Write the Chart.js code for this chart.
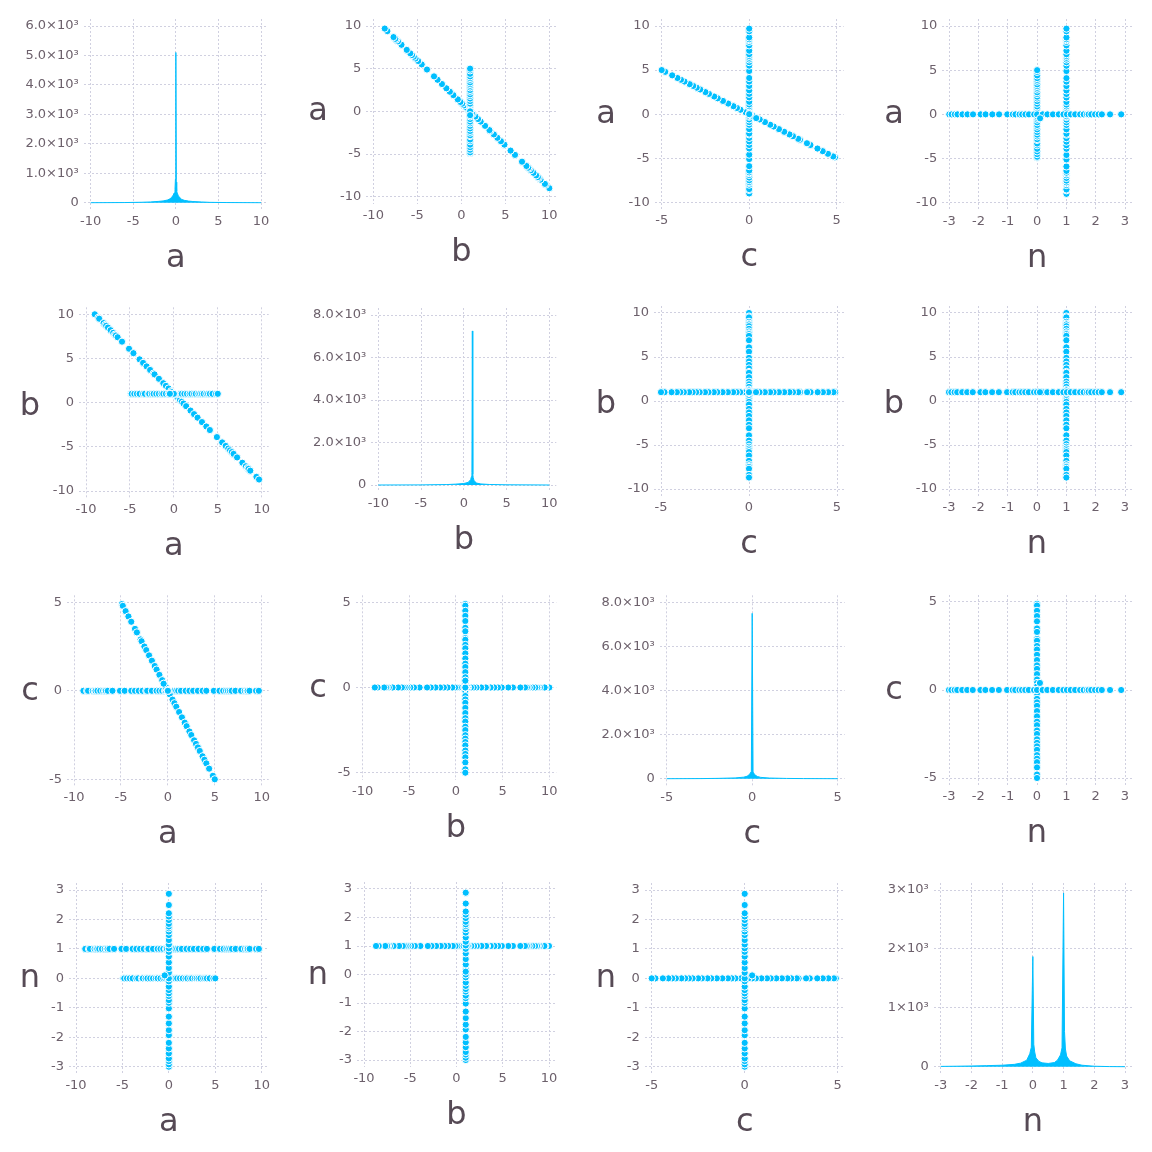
<!DOCTYPE html>
<html>
<head>
<meta charset="utf-8">
<script src="https://cdn.jsdelivr.net/npm/chart.js@4.4.0/dist/chart.umd.min.js"></script>
<style>
  html, body { margin: 0; padding: 0; background: #fff; }
  #grid { position: relative; width: 1152px; height: 1152px; }
  .cell { position: absolute; width: 288px; height: 288px; }
</style>
</head>
<body>
<div id="grid"></div>
<script>
const vars = ['a', 'b', 'c', 'n'];

// samples on the line a + b = 1 (c = 0, n = 1)
const lineOneA = [-9.0, -8.6, -8.5, -8.0, -7.8, -7.7, -7.5, -7.2, -6.9, -6.7, -6.6, -6.4, -5.9, -5.1, -4.6, -3.9, -3.5, -3.1, -2.7, -2.3,
  -2.2, -1.7, -1.2, -0.9, -0.6, -0.3, -0.2, 0.0, 0.2, 0.3, 0.5, 0.7, 0.9, 1.1, 1.4, 1.9, 2.3, 2.7, 3.2, 3.7,
  4.1, 4.9, 5.5, 5.9, 6.2, 6.4, 6.6, 6.8, 7.2, 7.8, 8.2, 8.4, 8.5, 8.7, 9.4, 9.7];
const lineOneB = [10.0, 9.6, 9.5, 9.0, 8.8, 8.7, 8.5, 8.2, 7.9, 7.7, 7.6, 7.4, 6.9, 6.1, 5.6, 4.9, 4.5, 4.1, 3.7, 3.3,
  3.2, 2.7, 2.2, 1.9, 1.6, 1.3, 1.2, 1.0, 0.8, 0.7, 0.5, 0.3, 0.1, -0.1, -0.4, -0.9, -1.3, -1.7, -2.2, -2.7,
  -3.1, -3.9, -4.5, -4.9, -5.2, -5.4, -5.6, -5.8, -6.2, -6.8, -7.2, -7.4, -7.5, -7.7, -8.4, -8.7];
const lineOneC = 0;
const lineOneN = 1;

// samples on the line c = -a (b = 1, n = 0)
const lineTwoA = [-4.9, -4.8, -4.5, -4.2, -3.9, -3.5, -3.3, -2.9, -2.8, -2.5, -2.3, -2.0, -1.7, -1.4, -1.2, -0.9, -0.6, -0.4, -0.2, 0.0,
  0.2, 0.5, 0.7, 0.9, 1.2, 1.5, 1.8, 2.0, 2.3, 2.5, 2.8, 3.0, 3.2, 3.4, 3.7, 3.9, 4.1, 4.4, 4.8, 5.0];
const lineTwoC = [4.9, 4.8, 4.5, 4.2, 3.9, 3.5, 3.3, 2.9, 2.8, 2.5, 2.3, 2.0, 1.7, 1.4, 1.2, 0.9, 0.6, 0.4, 0.2, 0.0,
  -0.2, -0.5, -0.7, -0.9, -1.2, -1.5, -1.8, -2.0, -2.3, -2.5, -2.8, -3.0, -3.2, -3.4, -3.7, -3.9, -4.1, -4.4, -4.8, -5.0];
const lineTwoB = 1;
const lineTwoN = 0;

// samples along n (a = 0, b = 1, c = 0)
const lineThreeN = [-3.0, -2.92, -2.81, -2.72, -2.55, -2.38, -2.19, -1.93, -1.76, -1.53, -1.3, -1.02, -0.83, -0.74, -0.6, -0.51, -0.4, -0.28, -0.1,
  0.0, 0.19, 0.35, 0.54, 0.74, 0.9, 1.02, 1.15, 1.3, 1.47, 1.59, 1.7, 1.76, 1.85, 1.98, 2.1, 2.21, 2.49, 2.87];
const lineThreeA = 0, lineThreeB = 1, lineThreeC = 0;

// one odd sample near the origin
const oddA = -0.45, oddB = 1, oddC = 0.4, oddN = 0.1;

// histograms on the diagonal (bin centre, count)
const histBinsA = [-10, -6, -4, -3, -2, -1.5, -1, -0.7, -0.5, -0.3, -0.2, -0.1, -0.05, 0, 0.05, 0.1, 0.2, 0.3, 0.5, 0.7, 1, 1.5, 2, 3, 4, 6, 10];
const histCountsA = [0, 5, 15, 25, 45, 60, 90, 130, 180, 260, 330, 450, 800, 5100, 700, 380, 300, 230, 160, 110, 80, 55, 40, 25, 12, 5, 0];
const histBinsB = [-10, -5, -2, -1, 0, 0.5, 0.8, 0.9, 0.95, 1.0, 1.05, 1.1, 1.2, 1.5, 2, 3, 5, 10];
const histCountsB = [0, 5, 20, 40, 70, 120, 250, 400, 600, 7250, 500, 350, 200, 90, 50, 25, 8, 0];
const histBinsC = [-5, -3, -2, -1, -0.5, -0.3, -0.15, -0.05, 0, 0.05, 0.15, 0.3, 0.5, 1, 2, 3, 5];
const histCountsC = [0, 5, 15, 35, 70, 110, 200, 330, 7500, 300, 180, 100, 60, 30, 12, 5, 0];
const histBinsN = [-3, -2.5, -2, -1.5, -1, -0.6, -0.4, -0.2, -0.1, -0.05, 0, 0.03, 0.06, 0.1, 0.2, 0.3, 0.5, 0.7, 0.8, 0.9, 0.95, 1.0, 1.03, 1.06, 1.1, 1.2, 1.4, 1.6, 2, 2.5, 3];
const histCountsN = [5, 8, 12, 18, 25, 40, 60, 110, 220, 330, 1870, 380, 250, 150, 90, 65, 55, 70, 110, 200, 320, 2950, 600, 300, 180, 100, 50, 25, 8, 2, 0];

// tick labels
const ticksA = [-10, -5, 0, 5, 10];
const ticksB = [-10, -5, 0, 5, 10];
const ticksC = [-5, 0, 5];
const ticksN = [-3, -2, -1, 0, 1, 2, 3];
const countTicksA = [0, 1000, 2000, 3000, 4000, 5000, 6000];
const countTicksB = [0, 2000, 4000, 6000, 8000];
const countTicksC = [0, 2000, 4000, 6000, 8000];
const countTicksN = [0, 1000, 2000, 3000];

// build the sample columns
const colA = lineOneA.concat(lineTwoA, lineThreeN.map(() => lineThreeA), [oddA]);
const colB = lineOneB.concat(lineTwoA.map(() => lineTwoB), lineThreeN.map(() => lineThreeB), [oddB]);
const colC = lineOneA.map(() => lineOneC).concat(lineTwoC, lineThreeN.map(() => lineThreeC), [oddC]);
const colN = lineOneA.map(() => lineOneN).concat(lineTwoA.map(() => lineTwoN), lineThreeN, [oddN]);

const cols = { a: colA, b: colB, c: colC, n: colN };
const hists = { a: [histBinsA, histCountsA], b: [histBinsB, histCountsB], c: [histBinsC, histCountsC], n: [histBinsN, histCountsN] };
const varTicks = { a: ticksA, b: ticksB, c: ticksC, n: ticksN };
const countTicks = { a: countTicksA, b: countTicksB, c: countTicksC, n: countTicksN };

// pixel position of first/last x tick and top/bottom y tick per panel
const tickPx = [
  [[90.7, 261], [26, 202.7]], [[373.3, 549.3], [26, 196.7]], [[661.7, 836.7], [26, 202.3]], [[949.3, 1125], [26, 202.7]],
  [[86, 261.7], [314.3, 491]], [[378.3, 549.3], [315, 485]], [[661, 837], [313, 489]], [[949, 1125], [313, 489]],
  [[74, 261.7], [602.3, 779.3]], [[362.7, 549.3], [602.3, 772.7]], [[666.7, 837.7], [602.3, 778.7]], [[949, 1125], [602, 778]],
  [[76, 261.7], [890, 1066.7]], [[364, 549], [889, 1060]], [[651.7, 837.7], [890, 1066.7]], [[940.7, 1125], [890, 1066.7]]
];

const CELL = 288;
const PAD = 7;
const BLUE = '#00BFFF';
const TICK_COLOR = '#6c606b';
const TITLE_COLOR = '#564a55';
const FONT = 'DejaVu Sans';

function countLabel(v, name) {
  if (v === 0) return '0';
  if (name === 'n') return (v / 1000) + '×10³';
  return (v / 1000).toFixed(1) + '×10³';
}

const axisTitles = {
  id: 'axisTitles',
  afterDraw(chart, args, opts) {
    const ctx = chart.ctx;
    const area = chart.chartArea;
    ctx.save();
    ctx.font = '32px "' + FONT + '"';
    ctx.fillStyle = TITLE_COLOR;
    ctx.textAlign = 'center';
    ctx.textBaseline = 'alphabetic';
    ctx.fillText(opts.x, (area.left + area.right) / 2, opts.xBaseline);
    if (opts.y) {
      const m = ctx.measureText(opts.y);
      const cy = (area.top + area.bottom) / 2 + (m.actualBoundingBoxAscent - m.actualBoundingBoxDescent) / 2;
      ctx.fillText(opts.y, opts.yCenter, cy);
    }
    ctx.restore();
  }
};

function makePanel(r, c) {
  const grid = document.getElementById('grid');
  const cell = document.createElement('div');
  cell.className = 'cell';
  cell.style.left = (c * CELL) + 'px';
  cell.style.top = (r * CELL) + 'px';
  const canvas = document.createElement('canvas');
  canvas.width = CELL;
  canvas.height = CELL;
  cell.appendChild(canvas);
  grid.appendChild(cell);

  const cellX = c * CELL, cellY = r * CELL;
  const [[x0, x1], [yT, yB]] = tickPx[r * 4 + c];
  const left = x0 - PAD - cellX, right = x1 + PAD - cellX;
  const top = yT - PAD - cellY, bottom = yB + PAD - cellY;

  const xName = vars[c], yName = vars[r];
  const diag = r === c;
  const xt = varTicks[xName];
  const yt = diag ? countTicks[xName] : varTicks[yName];
  const xPer = (x1 - x0) / (xt[xt.length - 1] - xt[0]);
  const yPer = (yB - yT) / (yt[yt.length - 1] - yt[0]);

  let dataset;
  if (diag) {
    const [bins, counts] = hists[xName];
    dataset = {
      type: 'line',
      data: bins.map((x, i) => ({ x: x, y: counts[i] })),
      borderColor: BLUE,
      backgroundColor: BLUE,
      borderWidth: 1,
      pointRadius: 0,
      tension: 0,
      fill: 'origin'
    };
  } else {
    dataset = {
      type: 'scatter',
      data: cols[xName].map((x, i) => ({ x: x, y: cols[yName][i] })),
      backgroundColor: BLUE,
      borderColor: '#ffffff',
      borderWidth: 1,
      pointRadius: 3.6,
      pointHoverRadius: 3.6
    };
  }

  const tickFont = { family: FONT, size: 13 };

  new Chart(canvas.getContext('2d'), {
    type: diag ? 'line' : 'scatter',
    data: { datasets: [dataset] },
    options: {
      responsive: false,
      animation: false,
      devicePixelRatio: 1,
      layout: { padding: { left: 0, top: top, right: CELL - right, bottom: 0 } },
      plugins: {
        legend: { display: false },
        tooltip: { enabled: false },
        axisTitles: { x: xName, y: diag ? '' : yName, xBaseline: yB - cellY + 64, yCenter: 30 }
      },
      scales: {
        x: {
          type: 'linear',
          min: xt[0] - PAD / xPer,
          max: xt[xt.length - 1] + PAD / xPer,
          afterBuildTicks: (s) => { s.ticks = xt.map(v => ({ value: v })); },
          afterFit: (s) => { s.height = CELL - bottom; },
          grid: { color: '#D0D0E0', lineWidth: 1, drawTicks: false },
          border: { display: false, dash: [2, 2] },
          ticks: { color: TICK_COLOR, font: tickFont, padding: 4, maxRotation: 0, autoSkip: false }
        },
        y: {
          type: 'linear',
          min: yt[0] - PAD / yPer,
          max: yt[yt.length - 1] + PAD / yPer,
          afterBuildTicks: (s) => { s.ticks = yt.map(v => ({ value: v })); },
          afterFit: (s) => { s.width = left; },
          grid: { color: '#D0D0E0', lineWidth: 1, drawTicks: false },
          border: { display: false, dash: [2, 2] },
          ticks: {
            color: TICK_COLOR, font: tickFont, padding: 5, autoSkip: false,
            callback: (v) => diag ? countLabel(v, xName) : String(v)
          }
        }
      }
    },
    plugins: [axisTitles]
  });
}

for (let r = 0; r < 4; r++) {
  for (let c = 0; c < 4; c++) {
    makePanel(r, c);
  }
}
</script>
</body>
</html>
